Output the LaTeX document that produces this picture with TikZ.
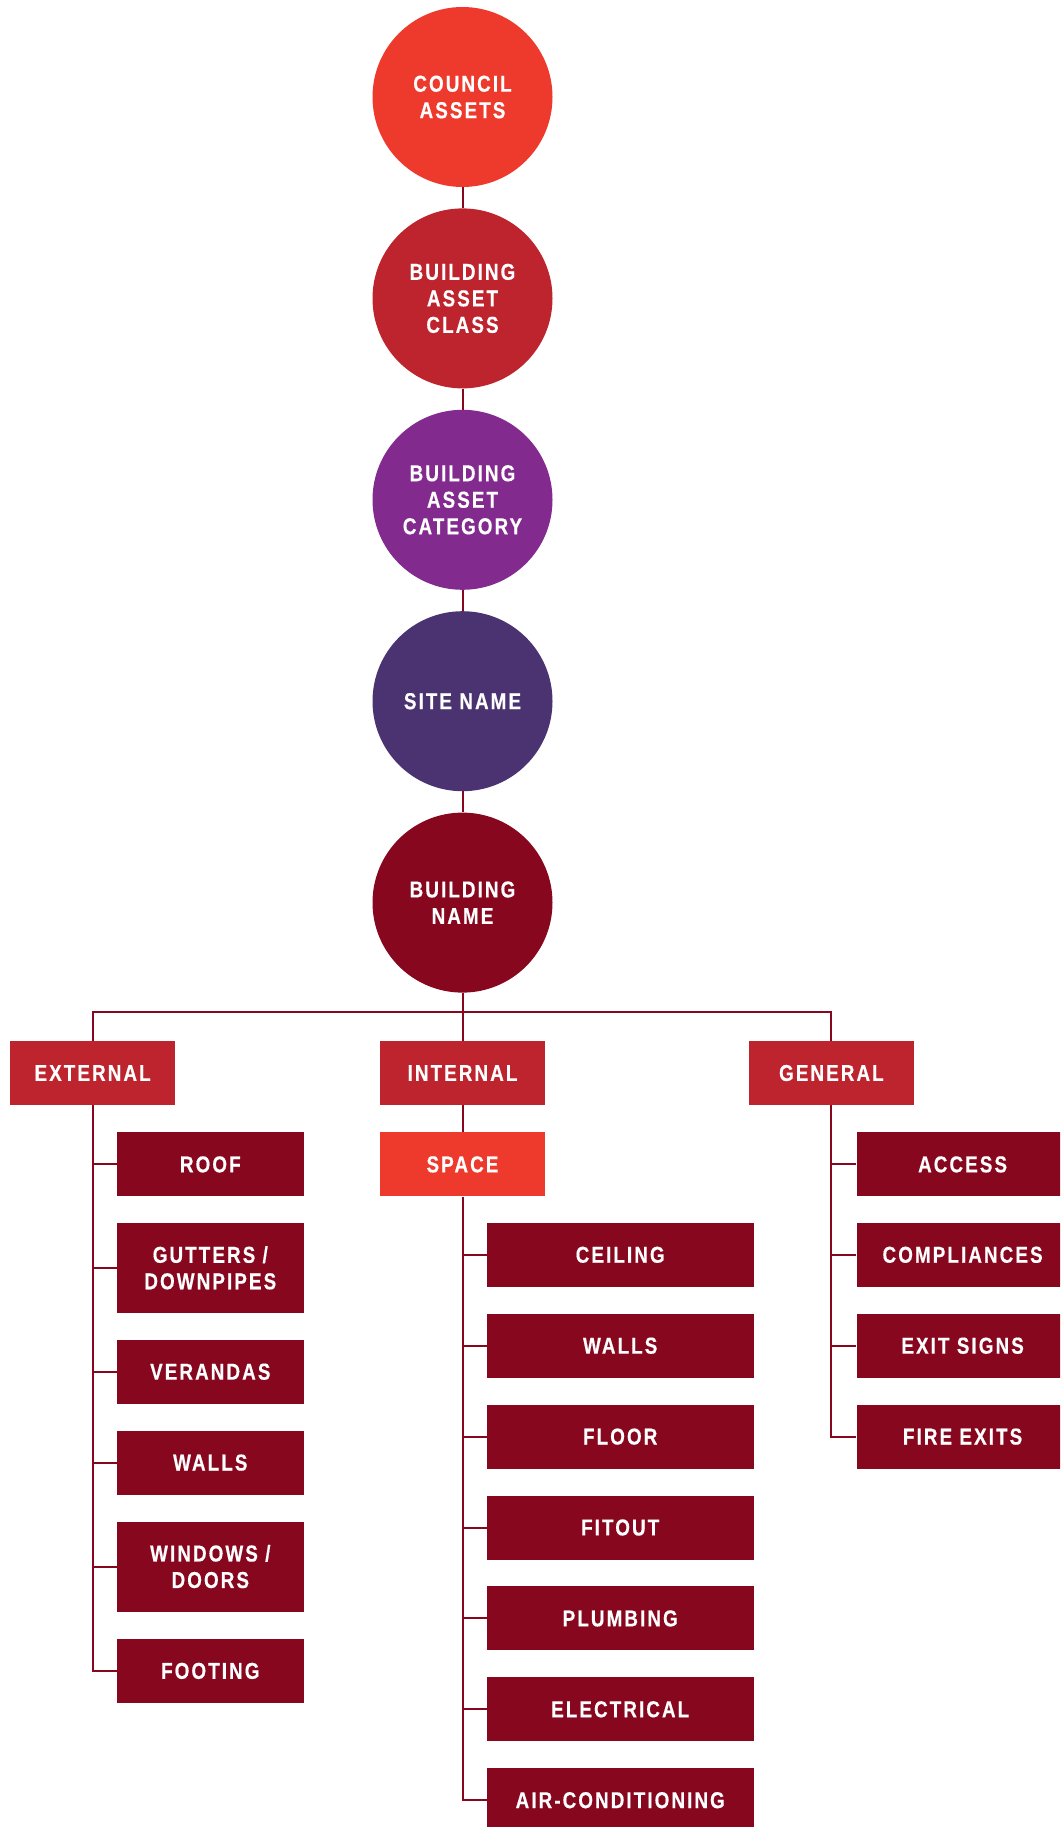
\documentclass[tikz,border=0pt]{standalone}
\usepackage{fontspec}
\setmainfont{Liberation Sans}[FakeStretch=0.82, LetterSpace=9, BoldFeatures={FakeBold=0.4}]
\usetikzlibrary{positioning}
\definecolor{assetred}{HTML}{EE3A2C}
\definecolor{classred}{HTML}{BE242D}
\definecolor{catpurple}{HTML}{832A8F}
\definecolor{sitepurple}{HTML}{4A3370}
\definecolor{wine}{HTML}{87071F}
\tikzset{
x=1pt, y=-1pt,
every node/.style={text=white, font=\fontsize{23}{26.5}\selectfont\bfseries, align=center, inner sep=0pt},
link/.style={draw=wine, line width=2pt},
}

\begin{document}
\begin{tikzpicture}
    [
    level/.style={circle, minimum size=180pt},
    group/.style={rectangle, fill=classred, minimum width=165pt, minimum height=64pt},
    xitem/.style={rectangle, fill=wine, minimum width=187pt, minimum height=64pt},
    iitem/.style={rectangle, fill=wine, minimum width=267pt, minimum height=64pt},
    gitem/.style={rectangle, fill=wine, minimum width=212pt, minimum height=64pt},
    double/.style={minimum height=90pt}
    ]
    \useasboundingbox (0,0) rectangle (1060,1827);
    \clip (0,0) rectangle (1060,1827);

    \node [level, fill=assetred] (ca) at (462.5,97) {COUNCIL\\ASSETS};
    \node [level, fill=classred] (bac) [below=21pt of ca] {BUILDING\\ASSET\\CLASS};
    \node [level, fill=catpurple] (bcat) [below=21pt of bac] {BUILDING\\ASSET\\CATEGORY};
    \node [level, fill=sitepurple] (site) [below=21pt of bcat] {SITE NAME};
    \node [level, fill=wine] (bn) [below=21pt of site] {BUILDING\\NAME};

    \node [group] (int) [below=48pt of bn] {INTERNAL};
    \node [group] (ext) [left=204.5pt of int] {EXTERNAL};
    \node [group] (gen) [right=203.5pt of int] {GENERAL};
    \node [group, fill=assetred] (spc) [below=27pt of int] {SPACE};

    \node [xitem, anchor=north west] (roof) at ([xshift=24pt]ext.center |- spc.north) {ROOF};
    \node [xitem, double] (gut) [below=26pt of roof] {GUTTERS /\\DOWNPIPES};
    \node [xitem] (ver) [below=26.5pt of gut] {VERANDAS};
    \node [xitem] (xwall) [below=26.5pt of ver] {WALLS};
    \node [xitem, double] (win) [below=26.5pt of xwall] {WINDOWS /\\DOORS};
    \node [xitem] (foot) [below=27pt of win] {FOOTING};

    \node [iitem, anchor=north west] (ceil) at ([xshift=24pt, yshift=-26pt]spc.south) {CEILING};
    \node [iitem] (iwall) [below=26.5pt of ceil] {WALLS};
    \node [iitem] (floor) [below=26.5pt of iwall] {FLOOR};
    \node [iitem] (fit) [below=26.5pt of floor] {FITOUT};
    \node [iitem] (plumb) [below=26.5pt of fit] {PLUMBING};
    \node [iitem] (elec) [below=26.5pt of plumb] {ELECTRICAL};
    \node [iitem] (air) [below=26.5pt of elec] {AIR-CONDITIONING};

    \node [gitem, anchor=north west] (acc) at ([xshift=25pt]gen.center |- spc.north) {ACCESS};
    \node [gitem] (comp) [below=26pt of acc] {COMPLIANCES};
    \node [gitem] (exit) [below=26.5pt of comp] {EXIT SIGNS};
    \node [gitem] (fire) [below=26.5pt of exit] {FIRE EXITS};

    \draw [link] (ca) -- (bac);
    \draw [link] (bac) -- (bcat);
    \draw [link] (bcat) -- (site);
    \draw [link] (site) -- (bn);
    \draw [link] (bn) -- (int);
    \coordinate (bus) at (462,1012);
    \draw [link] (ext.north) |- (bus) -| (gen.north);
    \draw [link] (int) -- (spc);

    \draw [link] (ext.south) |- (foot.west);
    \foreach \n in {roof,gut,ver,xwall,win}
        \draw [link] (ext.south |- \n.west) -- (\n.west);
    \draw [link] (spc.south) |- (air.west);
    \foreach \n in {ceil,iwall,floor,fit,plumb,elec}
        \draw [link] (spc.south |- \n.west) -- (\n.west);
    \draw [link] (gen.south) |- (fire.west);
    \foreach \n in {acc,comp,exit}
        \draw [link] (gen.south |- \n.west) -- (\n.west);

\end{tikzpicture}
\end{document}
